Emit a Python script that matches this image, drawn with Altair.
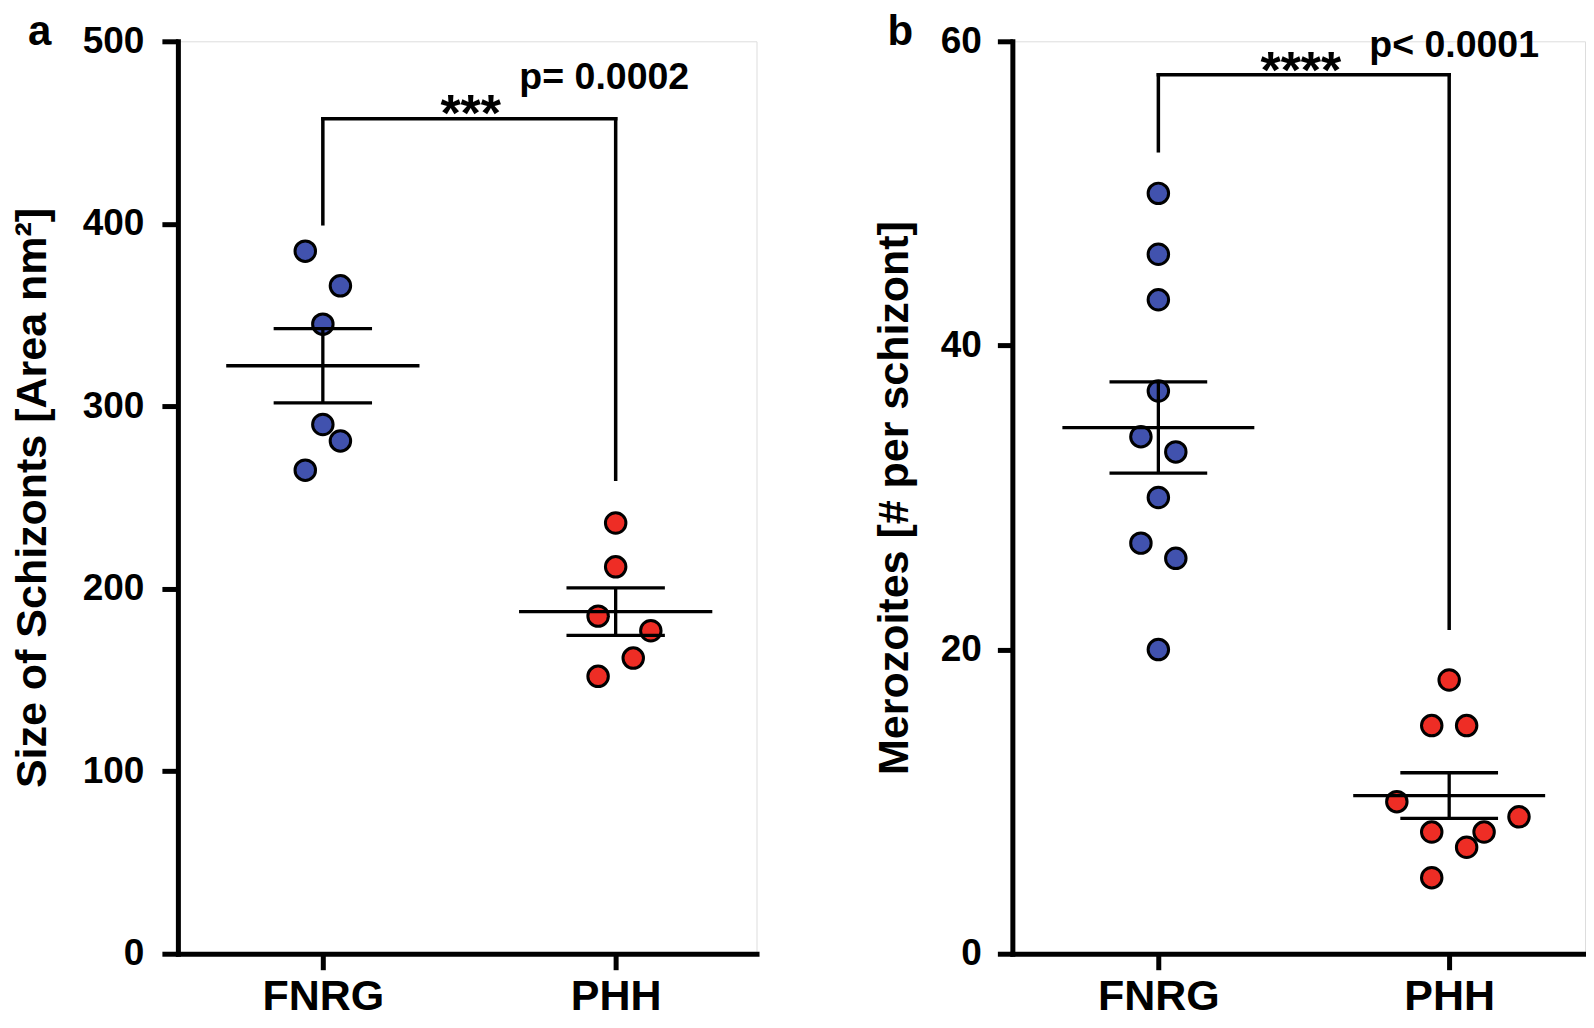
import altair as alt
import pandas as pd

# ---------------- data ----------------
groups = ["FNRG", "PHH"]

# panel a: Size of Schizonts [Area nm²]
a_fnrg = [385, 366, 345, 290, 281, 265]
a_phh = [236, 212, 185, 177, 162, 152]
a_mean = [322.2, 187.5]
a_sem = [20.3, 13.0]
a_bracket = [400, 457.5, 260]        # left leg end, bar level, right leg end
a_stars = "***"
a_p = "p= 0.0002"

# panel b: Merozoites [# per schizont]
b_fnrg = [50, 46, 43, 37, 34, 33, 30, 27, 26, 20]
b_phh = [18, 15, 15, 10, 9, 8, 8, 7, 5]
b_mean = [34.6, 10.4]
b_sem = [3.0, 1.5]
b_bracket = [52.8, 57.8, 21.4]
b_stars = "****"
b_p = "p< 0.0001"

# ---------------- layout / style ----------------
a_fnrg_jit = [-1, 1, 0, 0, 1, -1]
a_phh_jit = [0, 0, -1, 2, 1, -1]
b_fnrg_jit = [0, 0, 0, 0, -1, 1, 0, -1, 1, 0]
b_phh_jit = [0, -1, 1, -3, 4, -1, 2, 1, -1]
JIT = 0.06
MEAN_HALF = 0.33
CAP_HALF = 0.168

FONT = "Liberation Sans, Arial, Helvetica, sans-serif"
BLUE = "#4152AE"
RED = "#EE2D25"


def panel(fnrg, phh, fj, pj, mean, sem, bracket, stars, pval, letter,
          ymax, ystep, ytitle, xdom, width, height, star_pos, p_pos,
          letter_dx, letter_dy, title_pad, tick_size, label_pad):
    pts = pd.DataFrame(
        [{"idx": 0, "group": groups[0], "value": v, "jit": j} for v, j in zip(fnrg, fj)]
        + [{"idx": 1, "group": groups[1], "value": v, "jit": j} for v, j in zip(phh, pj)]
    )
    summ = pd.DataFrame({"idx": [0, 1], "mean": mean, "sem": sem})
    br = pd.DataFrame({
        "x": [0, 0, 1], "x2": [0, 1, 1],
        "y": [bracket[0], bracket[1], bracket[1]],
        "y2": [bracket[1], bracket[1], bracket[2]],
    })
    ann = pd.DataFrame({
        "x": [star_pos[0], p_pos[0]],
        "y": [star_pos[1], p_pos[1]],
        "t": [stars, pval],
        "fs": [52, 37.5],
    })

    xscale = alt.Scale(domain=xdom, nice=False, zero=False)
    yscale = alt.Scale(domain=[0, ymax], nice=False, zero=True)
    xaxis = alt.Axis(
        values=[0, 1],
        labelExpr=f"['{groups[0]}','{groups[1]}'][datum.value]",
        title="", grid=False,
        domainColor="black", domainWidth=5, domainCap="square",
        tickColor="black", tickWidth=5, tickSize=16,
        labelFont=FONT, labelFontWeight="bold", labelFontSize=43,
        labelColor="black", labelPadding=6,
    )
    yaxis = alt.Axis(
        values=list(range(0, ymax + 1, ystep)), title=ytitle, grid=False,
        domainColor="black", domainWidth=5, domainCap="square",
        tickColor="black", tickWidth=5, tickSize=tick_size,
        labelFont=FONT, labelFontWeight="bold", labelFontSize=37,
        labelColor="black", labelPadding=label_pad,
        titleFont=FONT, titleFontWeight="bold", titleFontSize=43,
        titleColor="black", titlePadding=title_pad,
    )

    def X(f):
        return alt.X(f, type="quantitative", scale=xscale, axis=xaxis)

    def Y(f):
        return alt.Y(f, type="quantitative", scale=yscale, axis=yaxis)

    points = alt.Chart(pts).transform_calculate(
        xpos=f"datum.idx + datum.jit * {JIT}"
    ).mark_point(
        shape="circle", filled=True, size=420, stroke="black",
        strokeWidth=3, opacity=1,
    ).encode(
        x=X("xpos"), y=Y("value"),
        fill=alt.Fill("group:N", scale=alt.Scale(domain=groups, range=[BLUE, RED]),
                      legend=None),
    )

    base = alt.Chart(summ).transform_calculate(
        lo="datum.mean - datum.sem", hi="datum.mean + datum.sem",
        ml=f"datum.idx - {MEAN_HALF}", mr=f"datum.idx + {MEAN_HALF}",
        cl=f"datum.idx - {CAP_HALF}", cr=f"datum.idx + {CAP_HALF}",
    )
    mean_line = base.mark_rule(color="black", strokeWidth=3.3).encode(
        x=X("ml"), x2="mr", y=Y("mean"))
    cap_hi = base.mark_rule(color="black", strokeWidth=3.3).encode(
        x=X("cl"), x2="cr", y=Y("hi"))
    cap_lo = base.mark_rule(color="black", strokeWidth=3.3).encode(
        x=X("cl"), x2="cr", y=Y("lo"))
    stem = base.mark_rule(color="black", strokeWidth=3.3).encode(
        x=X("idx"), y=Y("lo"), y2="hi")

    bracket_l = alt.Chart(br).mark_rule(
        color="black", strokeWidth=3.5, strokeCap="square"
    ).encode(x=X("x"), x2="x2", y=Y("y"), y2="y2")

    text = alt.Chart(ann).mark_text(
        font=FONT, fontWeight="bold", color="black", align="center",
        baseline="alphabetic",
    ).encode(x=X("x"), y=Y("y"), text="t:N", size=alt.Size("fs:Q", scale=None))

    lab = alt.Chart(pd.DataFrame({"t": [letter]})).mark_text(
        font=FONT, fontWeight="bold", fontSize=42, color="black",
        align="left", baseline="alphabetic",
    ).encode(x=alt.value(letter_dx), y=alt.value(letter_dy), text="t:N")

    return alt.layer(points, mean_line, cap_hi, cap_lo, stem, bracket_l, text, lab).properties(
        width=width, height=height)


pa = panel(a_fnrg, a_phh, a_fnrg_jit, a_phh_jit, a_mean, a_sem, a_bracket,
           a_stars, a_p, "a", 500, 100, "Size of Schizonts [Area nm²]",
           [-0.495, 1.481], 579, 913, (0.505, 451), (0.961, 474), -150, 4,
           28, 16, 18)
pb = panel(b_fnrg, b_phh, b_fnrg_jit, b_phh_jit, b_mean, b_sem, b_bracket,
           b_stars, b_p, "b", 60, 20, "Merozoites [# per schizont]",
           [-0.502, 1.467], 573, 913, (0.49, 56.9), (1.017, 59.0), -125, 4,
           24, 15, 16)

chart = alt.hconcat(pa, pb, spacing=115).properties(
    padding={"left": 2, "top": 2, "right": 0, "bottom": 0}
).configure_view(strokeWidth=0).configure(background="white")

chart.save("out.html", embed_options={"renderer": "svg", "actions": False})
